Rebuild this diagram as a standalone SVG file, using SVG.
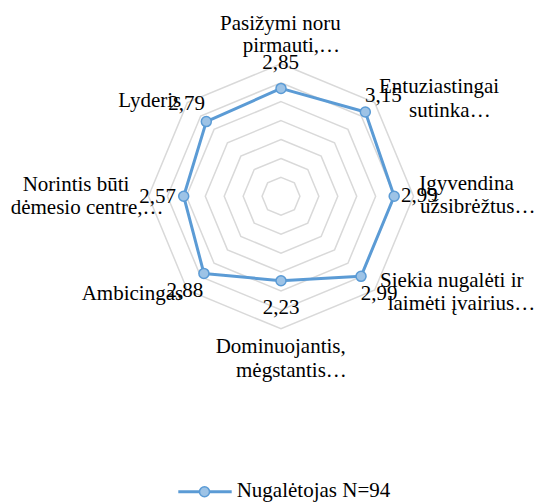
<svg xmlns="http://www.w3.org/2000/svg" width="538" height="504" viewBox="0 0 538 504">
  <style>
    .grid { fill: none; stroke: #d9d9d9; stroke-width: 1.5; }
    .series { fill: none; stroke: #5b9bd5; stroke-width: 3; stroke-linejoin: round; }
    .marker { fill: #9dc3e6; stroke: #5b9bd5; stroke-width: 1.5; }
    text { font-family: "Liberation Serif", "Times New Roman", serif; font-size: 21px; fill: #000; }
  </style>
  <rect width="538" height="504" fill="#ffffff"/>

  <!-- radar grid: 7 rings at 0.5 steps up to 3.5 -->
  <g id="grid">
    <polygon class="grid" points="281,177.37 294.39,182.91 299.93,196.3 294.39,209.69 281,215.23 267.61,209.69 262.07,196.3 267.61,182.91"/>
    <polygon class="grid" points="281,158.44 307.77,169.53 318.86,196.3 307.77,223.07 281,234.16 254.23,223.07 243.14,196.3 254.23,169.53"/>
    <polygon class="grid" points="281,139.51 321.16,156.14 337.79,196.3 321.16,236.46 281,253.09 240.84,236.46 224.21,196.3 240.84,156.14"/>
    <polygon class="grid" points="281,120.59 334.54,142.76 356.71,196.3 334.54,249.84 281,272.01 227.46,249.84 205.29,196.3 227.46,142.76"/>
    <polygon class="grid" points="281,101.66 347.92,129.38 375.64,196.3 347.92,263.22 281,290.94 214.08,263.22 186.36,196.3 214.08,129.38"/>
    <polygon class="grid" points="281,82.73 361.31,115.99 394.57,196.3 361.31,276.61 281,309.87 200.69,276.61 167.43,196.3 200.69,115.99"/>
    <polygon class="grid" points="281,63.8 374.69,102.61 413.5,196.3 374.69,289.99 281,328.8 187.31,289.99 148.5,196.3 187.31,102.61"/>
  </g>

  <!-- series line joining the category values -->
  <g id="connectors">
    <polygon class="series" points="281,88.41 365.32,111.98 394.19,196.3 361.04,276.34 281,280.72 203.91,273.39 183.71,196.3 206.31,121.61"/>
  </g>

  <g id="node-pasizymi">
    <circle class="marker" cx="281" cy="88.41" r="5"/>
    <text x="220" y="29.5">Pasižymi noru</text>
    <text x="242.7" y="51.7">pirmauti,…</text>
    <text x="262.3" y="69.3">2,85</text>
  </g>

  <g id="node-entuziastingai">
    <circle class="marker" cx="365.32" cy="111.98" r="5"/>
    <text x="379" y="93.3">Entuziastingai</text>
    <text x="409" y="116.7">sutinka…</text>
    <text x="365" y="101.7">3,15</text>
  </g>

  <g id="node-igyvendina">
    <circle class="marker" cx="394.19" cy="196.3" r="5"/>
    <text x="419.3" y="190">Įgyvendina</text>
    <text x="420" y="213.3">užsibrėžtus…</text>
    <text x="401" y="201.7">2,99</text>
  </g>

  <g id="node-siekia">
    <circle class="marker" cx="361.04" cy="276.34" r="5"/>
    <text x="380" y="286.7">Siekia nugalėti ir</text>
    <text x="387.7" y="310">laimėti įvairius…</text>
    <text x="360.7" y="300">2,99</text>
  </g>

  <g id="node-dominuojantis">
    <circle class="marker" cx="281" cy="280.72" r="5"/>
    <text x="215.7" y="353.3">Dominuojantis,</text>
    <text x="236" y="376.7">mėgstantis…</text>
    <text x="262.7" y="314">2,23</text>
  </g>

  <g id="node-ambicingas">
    <circle class="marker" cx="203.91" cy="273.39" r="5"/>
    <text x="81.7" y="300">Ambicingas</text>
    <text x="166.6" y="297">2,88</text>
  </g>

  <g id="node-norintis">
    <circle class="marker" cx="183.71" cy="196.3" r="5"/>
    <text x="22.7" y="191">Norintis būti</text>
    <text x="10.7" y="214">dėmesio centre,…</text>
    <text x="139.3" y="203.3">2,57</text>
  </g>

  <g id="node-lyderis">
    <circle class="marker" cx="206.31" cy="121.61" r="5"/>
    <text x="118.3" y="106.7">Lyderis</text>
    <text x="168.3" y="110">2,79</text>
  </g>

  <!-- legend -->
  <g id="legend">
    <line x1="178.3" y1="491.7" x2="231.7" y2="491.7" stroke="#5b9bd5" stroke-width="3"/>
    <circle class="marker" cx="204.5" cy="491.7" r="5"/>
    <text x="236.7" y="496.7">Nugalėtojas N=94</text>
  </g>
</svg>
